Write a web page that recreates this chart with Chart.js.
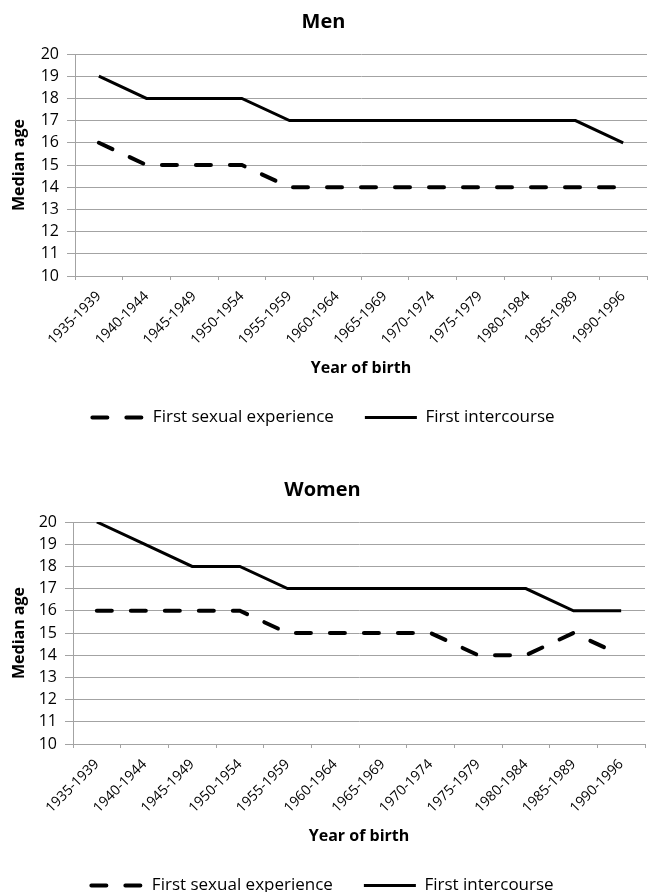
<!DOCTYPE html>
<html>
<head>
<meta charset="utf-8">
<script src="https://cdn.jsdelivr.net/npm/chart.js@4/dist/chart.umd.min.js"></script>
<style>
  html, body { margin: 0; padding: 0; background: #fff; overflow: hidden; }
  .box { position: absolute; left: 0; }
</style>
</head>
<body>
<div class="box" style="top:0px"><canvas id="men" width="652" height="436"></canvas></div>
<div class="box" style="top:468px"><canvas id="women" width="652" height="436"></canvas></div>
<script>
// categories (year of birth)
const years = [
  "1935-1939", "1940-1944", "1945-1949", "1950-1954", "1955-1959", "1960-1964",
  "1965-1969", "1970-1974", "1975-1979", "1980-1984", "1985-1989", "1990-1996",
];

// median ages, men
const menExperience = [16, 15, 15, 15, 14, 14, 14, 14, 14, 14, 14, 14];
const menIntercourse = [19, 18, 18, 18, 17, 17, 17, 17, 17, 17, 17, 16];

// median ages, women
const womenExperience = [16, 16, 16, 16, 15, 15, 15, 15, 14, 14, 15, 14];
const womenIntercourse = [20, 19, 18, 18, 17, 17, 17, 17, 17, 17, 16, 16];

// y axis range
const yMin = 10;
const yMax = 20;

const FONT = "'Open Sans', sans-serif";
const GRID = "#a3a3a3";

Chart.defaults.font.family = FONT;
Chart.defaults.color = "#000";

// legend items: copy the dash of each dataset into its line sample
const legendLabels = (chart) =>
  Chart.defaults.plugins.legend.labels.generateLabels(chart).map((item) => {
    const ds = chart.data.datasets[item.datasetIndex];
    return {
      ...item,
      lineDash: ds.borderDash || [],
      lineCap: ds.borderCapStyle || "butt",
      lineWidth: ds.borderWidth,
    };
  });

const drawChart = (id, title, experience, intercourse, leftWidth, rightPad) => {
  const ctx = document.getElementById(id).getContext("2d");

  new Chart(ctx, {
    type: "line",
    data: {
      labels: years,
      datasets: [
        {
          label: "First sexual experience",
          data: experience,
          borderColor: "#000",
          backgroundColor: "#000",
          borderWidth: 4,
          borderDash: [15, 19],
          borderCapStyle: "round",
          pointRadius: 0,
          tension: 0,
        },
        {
          label: "First intercourse",
          data: intercourse,
          borderColor: "#000",
          backgroundColor: "#000",
          borderWidth: 3,
          pointRadius: 0,
          tension: 0,
        },
      ],
    },
    options: {
      responsive: false,
      animation: false,
      layout: { padding: { left: 0, right: rightPad } },
      plugins: {
        title: {
          display: true,
          text: title,
          font: { size: 20, weight: "bold" },
          padding: { top: 10, bottom: 20 },
        },
        legend: {
          position: "bottom",
          labels: {
            usePointStyle: true,
            pointStyle: "line",
            pointStyleWidth: 52,
            padding: 31,
            font: { size: 17 },
            generateLabels: legendLabels,
          },
        },
        tooltip: { enabled: false },
      },
      scales: {
        x: {
          offset: true,
          grid: {
            offset: true,
            drawOnChartArea: false,
            drawTicks: true,
            tickLength: 4,
            color: GRID,
          },
          border: { color: GRID, width: 1 },
          ticks: {
            minRotation: 45,
            maxRotation: 45,
            autoSkip: false,
            padding: 8,
            font: { size: 14 },
          },
          title: {
            display: true,
            text: "Year of birth",
            font: { size: 16, weight: "bold" },
            padding: { top: 4, bottom: 0 },
          },
          afterFit: (scale) => {
            scale.height = 102;
          },
        },
        y: {
          min: yMin,
          max: yMax,
          grid: { color: GRID, tickLength: 8 },
          border: { color: GRID, width: 1 },
          ticks: {
            stepSize: 1,
            padding: 8,
            font: { size: 16 },
          },
          title: {
            display: true,
            text: "Median age",
            font: { size: 16, weight: "bold" },
            padding: { top: 10, bottom: 0 },
          },
          afterFit: (scale) => {
            scale.width = leftWidth;
          },
        },
      },
    },
  });
};

drawChart("men", "Men", menExperience, menIntercourse, 75, 5);
drawChart("women", "Women", womenExperience, womenIntercourse, 73, 7);
</script>
</body>
</html>
